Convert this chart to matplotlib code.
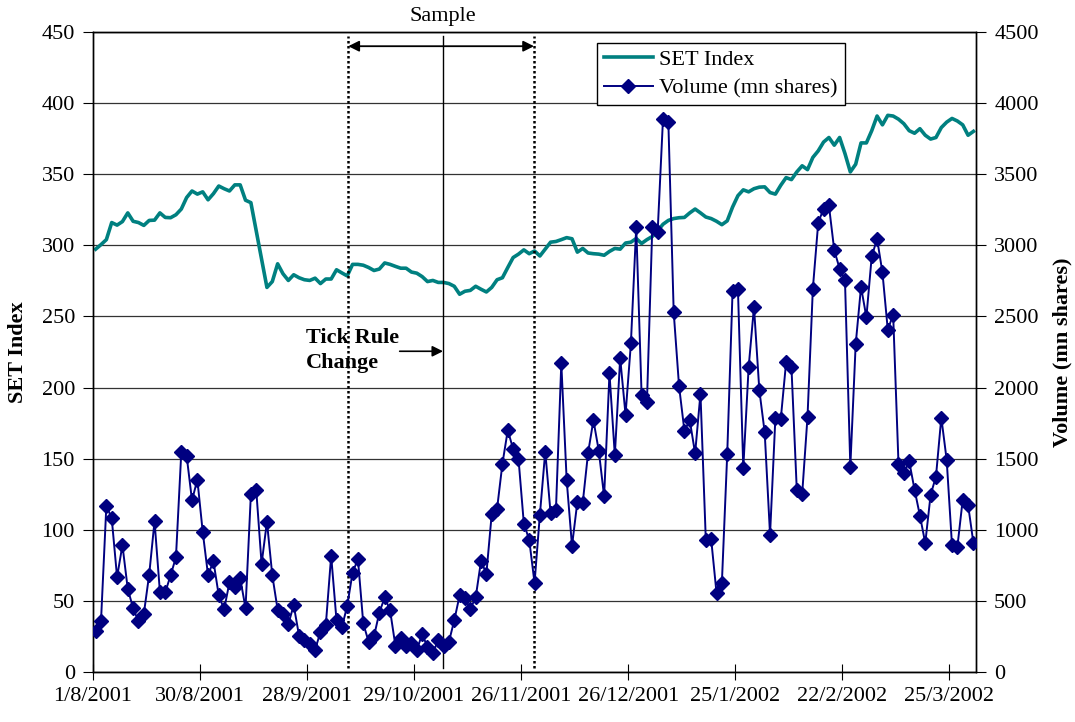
import matplotlib.pyplot as plt
import numpy as np

plt.rcParams['font.family'] = ['Liberation Serif', 'DejaVu Serif']

# trading-day tick labels (every 20th session)
tick_labels = ["1/8/2001", "30/8/2001", "28/9/2001", "29/10/2001", "26/11/2001",
               "26/12/2001", "25/1/2002", "22/2/2002", "25/3/2002"]

set_index = [
    297.3, 300.5, 304.0, 316.0, 314.2, 316.7, 322.8, 316.9, 316.0, 314.0,
    317.5, 317.7, 322.8, 319.6, 319.4, 321.5, 325.5, 333.6, 338.2, 336.0,
    337.6, 332.0, 336.3, 341.7, 339.8, 338.2, 342.5, 342.5, 331.7, 330.0,
    310.0, 290.0, 270.4, 274.5, 287.0, 280.0, 275.3, 279.3, 277.2, 275.8,
    275.3, 276.9, 273.1, 276.3, 276.3, 282.8, 280.6, 278.5, 286.6, 286.6,
    286.0, 284.4, 282.3, 283.3, 287.6, 286.6, 285.2, 283.9, 283.9, 281.2,
    280.4, 278.0, 274.5, 275.3, 273.9, 273.9, 273.1, 271.2, 265.6, 267.7,
    268.3, 271.2, 269.1, 267.2, 270.4, 275.8, 277.2, 284.4, 291.4, 293.8,
    296.8, 294.1, 296.0, 292.5, 297.3, 302.2, 302.7, 304.0, 305.4, 304.6,
    295.2, 297.8, 294.6, 294.1, 293.8, 293.0, 295.7, 297.8, 297.3, 301.6,
    302.2, 304.8, 301.3, 304.0, 306.2, 310.2, 314.8, 317.5, 318.8, 319.4,
    319.6, 322.8, 325.5, 322.8, 319.9, 318.8, 316.9, 314.5, 317.2, 326.9,
    334.9, 339.0, 337.6, 339.8, 340.9, 341.1, 337.1, 336.0, 342.2, 347.6,
    346.2, 351.6, 355.9, 353.2, 361.8, 366.4, 372.6, 375.8, 370.4, 375.8,
    364.5, 351.6, 357.0, 372.0, 372.0, 380.6, 390.9, 384.7, 391.4, 390.9,
    388.7, 385.5, 380.6, 378.8, 382.0, 377.4, 374.7, 375.8, 382.8, 386.6,
    389.2, 387.4, 384.7, 377.4, 380.1,
]

volume = [
    290, 360, 1170, 1080, 667, 892, 583, 449, 355, 409,
    685, 1060, 564, 559, 680, 806, 1546, 1519, 1207, 1352,
    986, 680, 780, 538, 440, 630, 597, 660, 449, 1250,
    1280, 760, 1056, 680, 438, 409, 336, 470, 255, 228,
    196, 156, 282, 330, 817, 363, 314, 465, 699, 793,
    341, 212, 250, 417, 524, 435, 185, 239, 180, 202,
    153, 266, 175, 132, 223, 180, 212, 363, 538, 519,
    444, 524, 780, 691, 1110, 1148, 1465, 1700, 1567, 1500,
    1043, 930, 626, 1107, 1550, 1115, 1142, 2170, 1350, 887,
    1196, 1188, 1540, 1770, 1556, 1234, 2100, 1524, 2207, 1809,
    2310, 3130, 1949, 1895, 3130, 3094, 3890, 3868, 2529, 2010,
    1696, 1770, 1537, 1957, 927, 933, 556, 626, 1532, 2680,
    2693, 1433, 2142, 2567, 1981, 1685, 965, 1788, 1777, 2177,
    2142, 1277, 1250, 1793, 2696, 3158, 3258, 3280, 2965, 2836,
    2755, 1443, 2304, 2707, 2495, 2922, 3045, 2809, 2406, 2513,
    1465, 1398, 1481, 1282, 1100, 906, 1245, 1374, 1788, 1492,
    890, 879, 1212, 1175, 906,
]

x = np.arange(len(set_index))
fs = 16

fig = plt.figure(figsize=(10.75, 7.22), dpi=100)
ax = fig.add_axes([0.0865, 0.0693, 0.8215, 0.8864])
ax2 = ax.twinx()

ax.set_ylim(0, 450)
ax.set_yticks(np.arange(0, 451, 50))
ax2.set_ylim(0, 4500)
ax2.set_yticks(np.arange(0, 4501, 500))
ax.set_xlim(-0.5, len(x) - 0.5)
ax.set_xticks(np.arange(0, len(x), 20) - 0.5)
ax.set_xticklabels(tick_labels)

ax.grid(axis='y', color='#333333', linewidth=0.9)
ax.set_axisbelow(True)

l1, = ax.plot(x, set_index, color='#008080', linewidth=2.6, label='SET Index', zorder=3)
l2, = ax2.plot(x, volume, color='#000080', linewidth=1.4, marker='D', markersize=7,
               label='Volume (mn shares)', zorder=3)

for a in (ax, ax2):
    for s in a.spines.values():
        s.set_linewidth(1.0)
        s.set_color('black')
ax.tick_params(axis='y', direction='out', length=7, labelsize=fs, pad=6)
ax.tick_params(axis='x', direction='inout', length=12, labelsize=fs, pad=5)
ax2.tick_params(axis='y', direction='out', length=7, labelsize=fs, pad=6)

ax.set_ylabel('SET Index', fontsize=fs, fontweight='bold', labelpad=10)
ax2.set_ylabel('Volume (mn shares)', fontsize=fs, fontweight='bold', rotation=90, labelpad=10)

# sample window and tick rule change
for xv in (47.2, 81.9):
    ax.plot([xv, xv], [3, 447], color='black', linestyle=(0, (1, 1)), linewidth=1.8, zorder=4)
ax.plot([64.9, 64.9], [3, 447], color='black', linewidth=1.0, zorder=4)
ax.annotate('', xy=(47.2, 440), xytext=(81.9, 440),
            arrowprops=dict(arrowstyle='<|-|>', color='black', lw=1.3, mutation_scale=16,
                            shrinkA=0, shrinkB=0))
ax.text(64.9, 461, 'Sample', ha='center', va='center', fontsize=fs)
ax.text(39.3, 226, 'Tick Rule\nChange', ha='left', va='center', fontsize=fs,
        fontweight='bold', linespacing=1.3)
ax.annotate('', xy=(64.9, 225.5), xytext=(56.8, 225.5),
            arrowprops=dict(arrowstyle='-|>', color='black', lw=1.2, mutation_scale=16,
                            shrinkA=0, shrinkB=0))

leg = ax.legend(handles=[l1, l2], loc='upper left', bbox_to_anchor=(0.571, 0.983),
                fontsize=fs, frameon=True, fancybox=False, edgecolor='black',
                framealpha=1, borderpad=0.3, handlelength=2.2, handletextpad=0.3,
                labelspacing=0.35, borderaxespad=0)
leg.get_frame().set_linewidth(1.0)
leg.set_zorder(10)

plt.savefig('out.png')
